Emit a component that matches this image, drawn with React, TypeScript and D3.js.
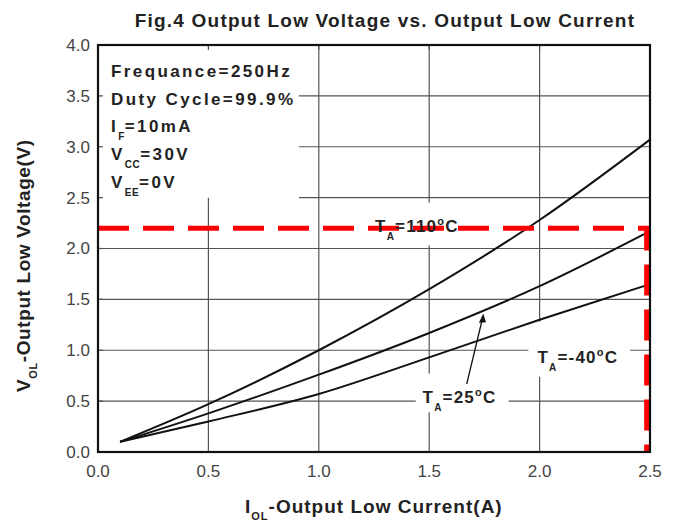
import React from 'react'
import * as d3 from 'd3'

// curve data (I_OL in A, V_OL in V)
const currents = [0.1, 0.5, 1.0, 1.5, 2.0, 2.5]
const v110 = [0.1, 0.47, 1.0, 1.6, 2.28, 3.07]
const v25 = [0.1, 0.38, 0.76, 1.17, 1.63, 2.17]
const vM40 = [0.1, 0.3, 0.57, 0.93, 1.3, 1.65]

const xTicks = [0, 0.5, 1.0, 1.5, 2.0, 2.5]
const yTicks = [0, 0.5, 1.0, 1.5, 2.0, 2.5, 3.0, 3.5, 4.0]

const limitV = 2.2
const limitI = 2.485

const conditions = [
  { main: 'Frequance=250Hz', sub: '', rest: '' },
  { main: 'Duty Cycle=99.9%', sub: '', rest: '' },
  { main: 'I', sub: 'F', rest: '=10mA' },
  { main: 'V', sub: 'CC', rest: '=30V' },
  { main: 'V', sub: 'EE', rest: '=0V' },
]

const tempLabels = [
  { t: '110', xv: 1.255, yv: 2.16 },
  { t: '-40', xv: 1.99, yv: 0.875 },
  { t: '25', xv: 1.47, yv: 0.48 },
]

const W = 678
const H = 521
const margin = { top: 45, right: 28, bottom: 69, left: 98 }
const font = '"Liberation Sans", Arial, sans-serif'

export default function App() {
  const pw = W - margin.left - margin.right
  const ph = H - margin.top - margin.bottom
  const x = d3.scaleLinear().domain([0, 2.5]).range([0, pw])
  const y = d3.scaleLinear().domain([0, 4]).range([ph, 0])

  const line = d3
    .line<number>()
    .x((_, i) => x(currents[i]))
    .y((d) => y(d))
    .curve(d3.curveMonotoneX)

  const series = [v110, v25, vM40]

  // white boxes that mask grid behind labels
  const masks = [
    { x0: 0, x1: 0.91, y0: 2.45, y1: 4.0 },
    { x0: 1.05, x1: 1.9, y0: 2.03, y1: 2.47 },
    { x0: 1.94, x1: 2.41, y0: 0.74, y1: 1.3 },
    { x0: 1.43, x1: 1.86, y0: 0.39, y1: 0.79 },
  ]

  return (
    <svg width={W} height={H} style={{ position: 'absolute', left: 0, top: 0, background: '#fff' }}>
      <text x={385} y={27} textAnchor="middle" fontFamily={font} fontWeight="bold" fontSize={19} fill="#222" letterSpacing={1.2}>
        Fig.4 Output Low Voltage vs. Output Low Current
      </text>
      <g transform={`translate(${margin.left},${margin.top})`}>
        {yTicks.slice(1, -1).map((t) => (
          <line key={'gy' + t} x1={0} x2={pw} y1={y(t)} y2={y(t)} stroke="#555" strokeWidth={1.2} />
        ))}
        {xTicks.slice(1, -1).map((t) => (
          <line key={'gx' + t} x1={x(t)} x2={x(t)} y1={0} y2={ph} stroke="#555" strokeWidth={1.2} />
        ))}
        {masks.map((m, i) => (
          <rect key={i} x={x(m.x0) + 2} y={y(m.y1) + 2} width={x(m.x1) - x(m.x0) - 2} height={y(m.y0) - y(m.y1) - 2} fill="#fff" />
        ))}
        {/* small inner ticks visible inside the masked box */}
        {xTicks.slice(1, -1).map((t) => (
          <line key={'tt' + t} x1={x(t)} x2={x(t)} y1={0} y2={5} stroke="#555" strokeWidth={1.2} />
        ))}
        {yTicks.slice(1, -1).map((t) => (
          <line key={'tl' + t} x1={0} x2={5} y1={y(t)} y2={y(t)} stroke="#555" strokeWidth={1.2} />
        ))}
        <line x1={x(0.5)} x2={x(0.5)} y1={y(2.45)} y2={y(2.45) - 5} stroke="#555" strokeWidth={1.2} />

        {series.map((s, i) => (
          <path key={i} d={line(s) ?? ''} fill="none" stroke="#111" strokeWidth={2} />
        ))}

        {/* limit lines */}
        <path
          d={`M${x(0)},${y(limitV)}H${x(limitI)}V${y(0)}`}
          fill="none"
          stroke="#ff0000"
          strokeWidth={5}
          strokeDasharray="31,14"
        />

        <rect x={0} y={0} width={pw} height={ph} fill="none" stroke="#111" strokeWidth={2.2} />

        {yTicks.map((t) => (
          <text key={'yl' + t} x={-8} y={y(t)} dy="0.35em" textAnchor="end" fontFamily={font} fontSize={17} fill="#444">
            {t.toFixed(1)}
          </text>
        ))}
        {xTicks.map((t) => (
          <text key={'xl' + t} x={x(t)} y={ph + 25} textAnchor="middle" fontFamily={font} fontSize={17} fill="#444">
            {t.toFixed(1)}
          </text>
        ))}

        {conditions.map((c, i) => (
          <text key={i} x={13} y={32 + i * 27.7} fontFamily={font} fontWeight="bold" fontSize={17} fill="#222" letterSpacing={2.4}>
            {c.main}
            {c.sub && (
              <tspan dy={8} fontSize={10} letterSpacing={0.5}>
                {c.sub}
              </tspan>
            )}
            {c.rest && <tspan dy={c.sub ? -8 : 0}>{c.rest}</tspan>}
          </text>
        ))}

        {tempLabels.map((l) => (
          <text key={l.t} x={x(l.xv)} y={y(l.yv)} fontFamily={font} fontWeight="bold" fontSize={17} fill="#222" letterSpacing={1.2}>
            T<tspan dy={8} fontSize={10}>A</tspan>
            <tspan dy={-8}>={l.t}</tspan>
            <tspan dy={-7} fontSize={11}>o</tspan>
            <tspan dy={7}>C</tspan>
          </text>
        ))}

        {/* arrow from 25C label to its curve */}
        <line x1={x(1.67)} y1={y(0.67)} x2={x(1.74)} y2={y(1.3)} stroke="#111" strokeWidth={1.3} />
        <path
          d={`M${x(1.745)},${y(1.36)}L${x(1.725)},${y(1.27)}L${x(1.757)},${y(1.275)}Z`}
          fill="#111"
        />
      </g>

      <text transform="translate(30,392) rotate(-90)" textAnchor="start" fontFamily={font} fontWeight="bold" fontSize={19} fill="#222" letterSpacing={0.6}>
        V<tspan dy={7} fontSize={11}>OL</tspan>
        <tspan dy={-7}>-Output Low Voltage(V)</tspan>
      </text>
      <text x={245} y={513} textAnchor="start" fontFamily={font} fontWeight="bold" fontSize={19} fill="#222" letterSpacing={1}>
        I<tspan dy={7} fontSize={11}>OL</tspan>
        <tspan dy={-7}>-Output Low Current(A)</tspan>
      </text>
    </svg>
  )
}
